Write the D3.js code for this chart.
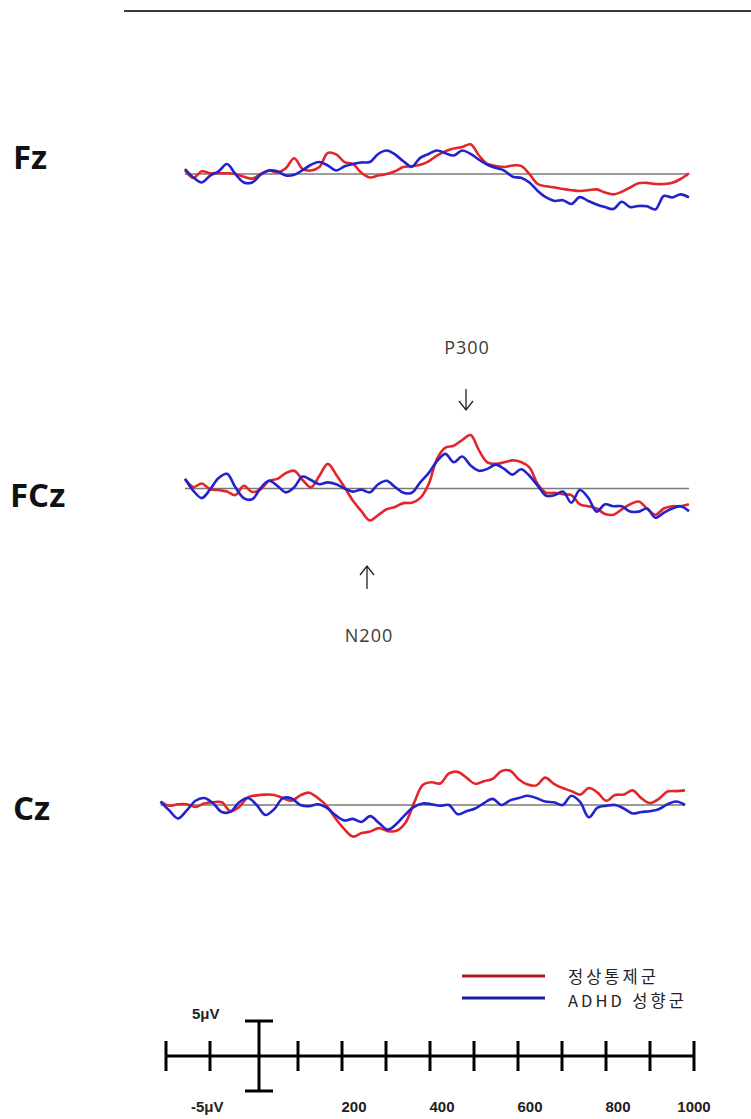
<!DOCTYPE html>
<html lang="ko">
<head>
    <meta charset="UTF-8">
    <title>ERP waveforms</title>
    <style>
        body {
            margin: 0;
            background-color: #ffffff;
        }
        svg {
            display: block;
            background-color: #ffffff;
        }
    </style>
    <script src="https://d3js.org/d3.v7.min.js"></script>
</head>
<body>
    <svg width="751" height="1119"></svg>
    <script>
        // time grid (ms), one sample every 20 ms
        const times = d3.range(-200, 1001, 20);

        // grand average amplitudes (uV)
        const fzNormal = [0.5, -0.5, 0.35, 0.1, 0.1, 0.1, 0, -0.35, -0.6, 0,
            0.45, 0.2, 0.75, 2.05, 0.65, 0.45, 0.9, 2.75, 2.55, 1.55,
            1.3, 0.15, -0.45, -0.2, 0, 0.35, 0.9, 1.0, 1.2, 1.65,
            2.4, 2.95, 3.3, 3.5, 3.85, 2.4, 1.3, 1.05, 0.9, 1.1,
            1.05, 0, -1.3, -1.6, -1.75, -1.95, -2.1, -2.2, -2.1, -2.0,
            -2.4, -2.65, -2.3, -1.75, -1.2, -1.15, -1.3, -1.3, -1.15, -0.65,
            0.1];
        const fzAdhd = [0.65, -0.45, -1.1, -0.2, 0.35, 1.3, 0, -1.1, -1.1, -0.1,
            0.45, 0.35, -0.2, -0.1, 0.5, 1.2, 1.55, 1.1, 0.45, 1.0,
            1.3, 1.5, 1.55, 2.6, 3.05, 2.55, 1.65, 0.95, 2.1, 2.6,
            3.05, 2.7, 2.4, 3.05, 2.6, 1.85, 1.2, 0.8, 0.45, -0.35,
            -0.5, -1.1, -2.2, -3.05, -3.5, -3.4, -3.9, -3.0, -3.5, -3.95,
            -4.3, -4.55, -3.6, -4.3, -4.15, -4.2, -4.6, -2.85, -3.05, -2.65,
            -3.05];
        const fczNormal = [1.25, 0.2, 0.65, -0.1, -0.2, -0.4, -0.85, 0.35, -0.45, -0.1,
            1.0, 1.25, 2.0, 2.3, 1.1, 0.15, 1.65, 3.2, 1.8, 0.15,
            -1.6, -2.95, -4.15, -3.45, -2.7, -2.4, -1.9, -1.85, -1.25, 0.55,
            3.85, 5.3, 5.55, 6.3, 6.95, 4.95, 3.4, 3.2, 3.4, 3.65,
            3.45, 2.75, 0.55, -0.55, -0.55, -0.75, -0.85, -2.05, -2.3, -2.6,
            -3.3, -3.4, -2.7, -2.05, -1.7, -2.6, -3.4, -2.6, -2.3, -2.3,
            -2.05];
        const fczAdhd = [1.25, -0.3, -1.25, -0.1, 1.35, 1.9, 0.15, -1.25, -1.4, 0.05,
            1.0, 0.35, -0.5, 0.15, 1.55, 1.1, 0.55, 0.8, 0.55, 0,
            -0.4, -0.15, -0.5, 0.55, 1.0, 0.2, -0.55, -0.55, 0.8, 2.0,
            3.55, 4.5, 3.4, 4.15, 3.0, 2.3, 2.55, 3.1, 2.55, 1.8,
            2.5, 1.65, 0.35, -0.95, -0.85, -0.4, -1.85, -0.2, -1.2, -3.0,
            -2.05, -2.3, -2.3, -3.0, -3.0, -2.6, -3.8, -3.15, -2.6, -2.3,
            -2.95];
        const czNormal = [0.45, -0.1, 0.1, 0.1, -0.25, 0.2, 0.35, 0.35, -0.8, -0.25,
            1.0, 1.25, 1.35, 1.3, 0.9, 0.55, 1.25, 1.6, 0.9, -0.1,
            -1.7, -3.1, -4.1, -3.65, -3.45, -3.0, -3.4, -3.35, -2.35, 0.25,
            2.6, 2.95, 2.8, 4.1, 4.3, 3.55, 2.75, 3.1, 3.4, 4.4,
            4.45, 3.3, 2.65, 2.55, 3.55, 2.75, 2.2, 1.8, 1.35, 2.2,
            1.6, 0.55, 1.3, 1.35, 1.9, 0.9, 0.25, 0.8, 1.75, 1.8,
            1.9];
        const czAdhd = [0.45, -0.7, -1.75, -0.7, 0.55, 0.9, 0.25, -0.9, -0.9, 0.35,
            0.9, 0, -1.3, -0.55, 0.9, 0.85, 0, -0.15, 0.1, -0.35,
            -1.3, -2.0, -1.8, -2.2, -1.45, -2.35, -3.2, -2.45, -1.25, -0.25,
            0.2, 0.1, -0.1, 0, -1.2, -0.8, -0.45, 0.25, 0.8, 0,
            0.6, 0.9, 1.2, 0.9, 0.45, 0.35, 0, 1.2, 0.4, -1.6,
            -0.35, -0.1, 0, -0.45, -1.1, -0.9, -0.8, -0.55, 0.1, 0.45,
            0];

        const electrodes = ["Fz", "FCz", "Cz"];
        const groups = ["정상통제군", "ADHD 성향군"];
        const scaleTicks = [-200, -100, 100, 200, 300, 400, 500, 600, 700, 800, 900, 1000];
        const scaleLabels = [200, 400, 600, 800, 1000];

        const svg = d3.select("svg");

        const red = "#e3262a";
        const blue = "#2323cc";
        const pxPerUv = 7.7;

        // top rule
        svg.append("line")
            .attr("x1", 124).attr("x2", 751)
            .attr("y1", 11).attr("y2", 11)
            .attr("stroke", "#3a3a3a")
            .attr("stroke-width", 2);

        const panels = [
            { name: electrodes[0], normal: fzNormal, adhd: fzAdhd, base: 174, x0: 185, x1: 689, lx: 13, ly: 169 },
            { name: electrodes[1], normal: fczNormal, adhd: fczAdhd, base: 488.5, x0: 185, x1: 689, lx: 10, ly: 507 },
            { name: electrodes[2], normal: czNormal, adhd: czAdhd, base: 805, x0: 160.5, x1: 685, lx: 13, ly: 820 }
        ];

        panels.forEach(p => {
            const x = d3.scaleLinear().domain([-200, 1000]).range([p.x0, p.x1]);
            const y = d3.scaleLinear().domain([-5, 5]).range([p.base + 5 * pxPerUv, p.base - 5 * pxPerUv]);

            svg.append("text")
                .attr("x", p.lx).attr("y", p.ly)
                .attr("font-family", "'Open Sans', 'Noto Sans', sans-serif")
                .attr("font-weight", 700)
                .attr("font-size", 33)
                .attr("fill", "#111")
                .text(p.name);

            // zero line
            svg.append("line")
                .attr("x1", x(-200)).attr("x2", x(1000))
                .attr("y1", y(0)).attr("y2", y(0))
                .attr("stroke", "#7a7a7a")
                .attr("stroke-width", 1.5);

            const line = d3.line()
                .x((d, i) => x(times[i]))
                .y(d => y(d))
                .curve(d3.curveCatmullRom.alpha(0.5));

            svg.append("path")
                .datum(p.normal)
                .attr("d", line)
                .attr("fill", "none")
                .attr("stroke", red)
                .attr("stroke-width", 2.6)
                .attr("stroke-linejoin", "round");

            svg.append("path")
                .datum(p.adhd)
                .attr("d", line)
                .attr("fill", "none")
                .attr("stroke", blue)
                .attr("stroke-width", 2.6)
                .attr("stroke-linejoin", "round");
        });

        // component annotations
        const annFont = "'Open Sans', 'Noto Sans', sans-serif";
        svg.append("text")
            .attr("x", 467).attr("y", 354)
            .attr("text-anchor", "middle")
            .attr("font-family", annFont)
            .attr("font-size", 18)
            .attr("letter-spacing", 1)
            .attr("fill", "#3a3a3a")
            .text("P300");
        svg.append("path")
            .attr("d", "M466,389 L466,410 M459,401 L466,410 L473,401")
            .attr("fill", "none")
            .attr("stroke", "#222")
            .attr("stroke-width", 1.3);

        svg.append("text")
            .attr("x", 369).attr("y", 642)
            .attr("text-anchor", "middle")
            .attr("font-family", annFont)
            .attr("font-size", 18)
            .attr("letter-spacing", 1)
            .attr("fill", "#3a3a3a")
            .text("N200");
        svg.append("path")
            .attr("d", "M367,589 L367,566 M360,575 L367,566 L374,575")
            .attr("fill", "none")
            .attr("stroke", "#222")
            .attr("stroke-width", 1.3);

        // legend
        const legendColors = ["#a51c20", "#1c1ca0"];
        const legendLineY = [976, 998];
        const legendTextY = [982.5, 1007];
        groups.forEach((g, i) => {
            svg.append("line")
                .attr("x1", 462).attr("x2", 545)
                .attr("y1", legendLineY[i]).attr("y2", legendLineY[i])
                .attr("stroke", legendColors[i])
                .attr("stroke-width", 3);
            svg.append("text")
                .attr("x", 568).attr("y", legendTextY[i])
                .attr("font-family", "'Noto Sans CJK KR', sans-serif")
                .attr("font-size", 16.5)
                .attr("letter-spacing", 3)
                .attr("fill", "#222")
                .text(g);
        });

        // scale bar
        const sx = d3.scaleLinear().domain([-200, 1000]).range([166, 694]);
        const axisY = 1056;
        svg.append("line")
            .attr("x1", sx(-200)).attr("x2", sx(1000))
            .attr("y1", axisY).attr("y2", axisY)
            .attr("stroke", "#000")
            .attr("stroke-width", 3);
        svg.selectAll(".tick")
            .data(scaleTicks)
            .enter().append("line")
            .attr("x1", d => sx(d)).attr("x2", d => sx(d))
            .attr("y1", axisY - 15).attr("y2", axisY + 15)
            .attr("stroke", "#000")
            .attr("stroke-width", 3);

        // 5 uV calibration bar at stimulus onset
        const uv = d3.scaleLinear().domain([-5, 5]).range([1091, 1021]);
        const bx = sx(0) + 5;
        svg.append("path")
            .attr("d", `M${bx},${uv(5)} L${bx},${uv(-5)} M${bx - 14},${uv(5)} L${bx + 14},${uv(5)} M${bx - 14},${uv(-5)} L${bx + 14},${uv(-5)}`)
            .attr("fill", "none")
            .attr("stroke", "#000")
            .attr("stroke-width", 3);

        const smallFont = "'Liberation Sans', Arial, sans-serif";
        svg.append("text")
            .attr("x", 192).attr("y", 1019)
            .attr("font-family", smallFont)
            .attr("font-weight", 700)
            .attr("font-size", 15)
            .attr("fill", "#222")
            .text("5μV");
        svg.append("text")
            .attr("x", 191).attr("y", 1112)
            .attr("font-family", smallFont)
            .attr("font-weight", 700)
            .attr("font-size", 15)
            .attr("fill", "#222")
            .text("-5μV");

        svg.selectAll(".tlab")
            .data(scaleLabels)
            .enter().append("text")
            .attr("x", d => sx(d) + (d === 1000 ? 0 : 12))
            .attr("y", 1112)
            .attr("text-anchor", "middle")
            .attr("font-family", smallFont)
            .attr("font-weight", 700)
            .attr("font-size", 15)
            .attr("fill", "#222")
            .text(d => d);
    </script>
</body>
</html>
